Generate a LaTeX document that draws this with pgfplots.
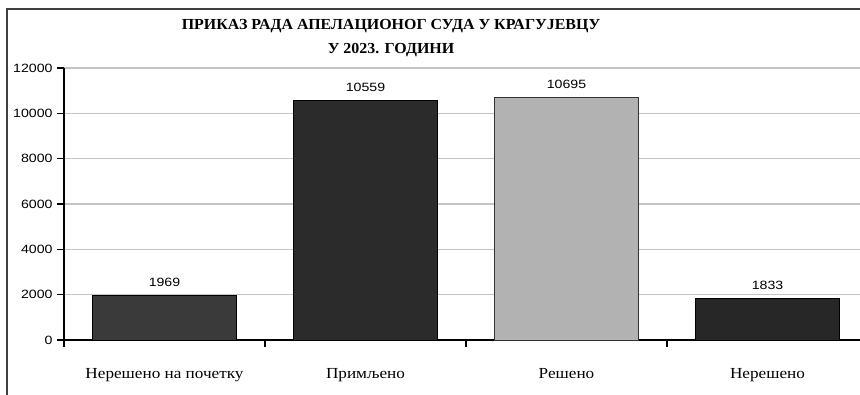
\documentclass[border=0pt]{standalone}
\usepackage{pgfplots}
\pgfplotsset{compat=1.18}
\usepackage{fontspec}
\setmainfont{Liberation Serif}
\newfontfamily\sansf[FakeStretch=1.18]{Liberation Sans}
\newfontfamily\titlef[FakeStretch=1.04]{Liberation Serif}
\newfontfamily\catf[FakeStretch=1.12]{Liberation Serif}
\definecolor{barA}{HTML}{3A3A3A}
\definecolor{barB}{HTML}{2B2B2B}
\definecolor{barC}{HTML}{B2B2B2}
\definecolor{barD}{HTML}{272727}
\definecolor{gridc}{HTML}{C4C4C4}
\begin{document}
\begin{tikzpicture}
\useasboundingbox (0pt,0pt) rectangle (645pt,296.25pt);
\begin{scope}
\clip (0pt,0pt) rectangle (645pt,296.25pt);
\draw[line width=1.5pt, color=black!75] (5.25pt,-20pt) -- (5.25pt,289.5pt) -- (700pt,289.5pt);
\node[font=\titlef\bfseries\fontsize{11.5pt}{13pt}\selectfont] at (293.25pt,276.75pt) {ПРИКАЗ РАДА АПЕЛАЦИОНОГ СУДА У КРАГУЈЕВЦУ};
\node[font=\titlef\bfseries\fontsize{11.5pt}{13pt}\selectfont] at (293.25pt,258.75pt) {У 2023. ГОДИНИ};
\begin{axis}[
  at={(48pt,41.25pt)}, anchor=south west,
  scale only axis,
  width=603pt, height=204pt,
  xmin=-0.5, xmax=3.5, ymin=0, ymax=12000,
  axis lines=left, axis line style={-, black, line width=0.8pt},
  ytick={0,2000,4000,6000,8000,10000,12000},
  ymajorgrids, grid style={gridc, line width=0.8pt},
  tick align=outside, major tick length=5pt,
  tick style={black, line width=0.8pt},
  xtick={-0.5,0.5,1.5,2.5,3.5},
  x tick label as interval,
  xticklabels={Нерешено на почетку, Примљено, Решено, Нерешено},
  xticklabel style={font=\catf\fontsize{11.5pt}{13pt}\selectfont, yshift=-13pt},
  yticklabel style={font=\sansf\fontsize{9pt}{10pt}\selectfont, xshift=0pt},
  /pgf/number format/assume math mode=true,
  /pgf/number format/1000 sep={},
  scaled y ticks=false,
  ybar, bar width=0.72, bar shift=0pt,
  nodes near coords,
  every node near coord/.append style={font=\sansf\fontsize{9pt}{10pt}\selectfont, black, yshift=3pt},
  clip=false,
]
\addplot[fill=barA, draw=black, line width=0.7pt] coordinates {(0,1969)};
\addplot[fill=barB, draw=black, line width=0.7pt] coordinates {(1,10559)};
\addplot[fill=barC, draw=black!80, line width=0.7pt] coordinates {(2,10695)};
\addplot[fill=barD, draw=black, line width=0.7pt] coordinates {(3,1833)};
\end{axis}
\end{scope}
\end{tikzpicture}
\end{document}
